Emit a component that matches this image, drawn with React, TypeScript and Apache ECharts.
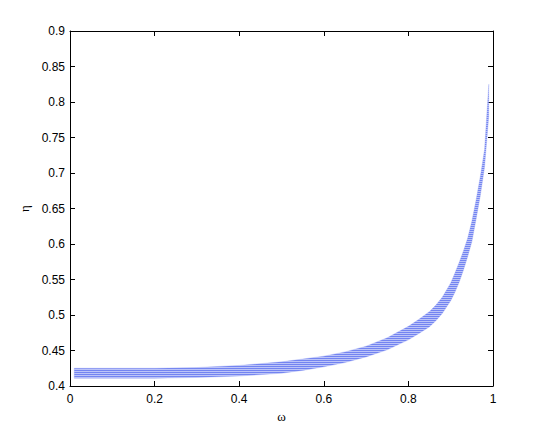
import React, { useEffect, useRef } from "react";
import * as echarts from "echarts";

const omega = [0.01, 0.1, 0.2, 0.3, 0.4, 0.5, 0.55, 0.6, 0.65, 0.7, 0.75, 0.8, 0.825, 0.85, 0.865, 0.88, 0.9, 0.91, 0.92, 0.93, 0.94, 0.95, 0.96, 0.97, 0.98, 0.99];
const etaLower = [0.411, 0.411, 0.411, 0.412, 0.414, 0.418, 0.422, 0.427, 0.433, 0.441, 0.451, 0.465, 0.474, 0.4835, 0.492, 0.502, 0.52, 0.532, 0.546, 0.563, 0.582, 0.603, 0.635, 0.668, 0.708, 0.78];
const etaUpper = [0.425, 0.425, 0.425, 0.426, 0.429, 0.434, 0.438, 0.442, 0.448, 0.456, 0.468, 0.484, 0.494, 0.505, 0.514, 0.525, 0.545, 0.559, 0.574, 0.59, 0.608, 0.632, 0.662, 0.695, 0.733, 0.825];

const FONT = "'Liberation Sans', Arial, Helvetica, sans-serif";

function makeStripePattern() {
  const c = document.createElement("canvas");
  c.width = 4;
  c.height = 2;
  const ctx = c.getContext("2d");
  if (!ctx) return "#97a3f4";
  ctx.fillStyle = "#7384f1";
  ctx.fillRect(0, 0, 4, 1);
  ctx.fillStyle = "#bcc4f8";
  ctx.fillRect(0, 1, 4, 1);
  return { image: c, repeat: "repeat" };
}

export default function App() {
  const ref = useRef<HTMLDivElement>(null);
  useEffect(() => {
    if (!ref.current) return;
    const chart = echarts.init(ref.current, null, { renderer: "svg" });
    const data = omega.map((w, i) => [w, etaLower[i], etaUpper[i]]);
    const pattern = makeStripePattern();
    const axisCommon = {
      axisLine: { show: true, onZero: false, lineStyle: { color: "#000", width: 1 } },
      axisTick: { show: true, inside: true, length: 5, lineStyle: { color: "#000", width: 1 } },
      splitLine: { show: false },
    };
    chart.setOption({
      animation: false,
      backgroundColor: "#fff",
      grid: { left: 70, right: 52, top: 31, bottom: 50 },
      xAxis: [
        {
          type: "value", min: 0, max: 1, interval: 0.2, position: "bottom",
          ...axisCommon,
          axisLabel: { color: "#000", fontSize: 12, fontFamily: FONT, margin: 7 },
          name: "ω", nameLocation: "middle", nameGap: 23,
          nameTextStyle: { color: "#000", fontSize: 13, fontFamily: "'Liberation Serif', serif" },
        },
        {
          type: "value", min: 0, max: 1, interval: 0.2, position: "top",
          ...axisCommon, axisLabel: { show: false },
        },
      ],
      yAxis: [
        {
          type: "value", min: 0.4, max: 0.9, interval: 0.05, position: "left",
          ...axisCommon,
          axisLabel: { color: "#000", fontSize: 12, fontFamily: FONT, margin: 5 },
          name: "η", nameLocation: "middle", nameGap: 36,
          nameTextStyle: { color: "#000", fontSize: 13, fontFamily: "'Liberation Serif', serif" },
        },
        {
          type: "value", min: 0.4, max: 0.9, interval: 0.05, position: "right",
          ...axisCommon, axisLabel: { show: false },
        },
      ],
      series: [
        {
          type: "custom",
          xAxisIndex: 0,
          yAxisIndex: 0,
          encode: { x: 0, y: [1, 2] },
          data,
          renderItem: (params: any, api: any) => {
            if (params.dataIndexInside !== 0) return null;
            const top = data.map((d) => api.coord([d[0], d[2]]));
            const bottom = data.map((d) => api.coord([d[0], d[1]])).reverse();
            return {
              type: "polygon",
              shape: { points: top.concat(bottom) },
              style: { fill: pattern, stroke: "rgba(141,153,243,0.6)", lineWidth: 0.5 },
            };
          },
        },
      ],
    });
    return () => chart.dispose();
  }, []);
  return <div ref={ref} style={{ position: "fixed", left: 0, top: 0, width: 545, height: 436 }} />;
}
